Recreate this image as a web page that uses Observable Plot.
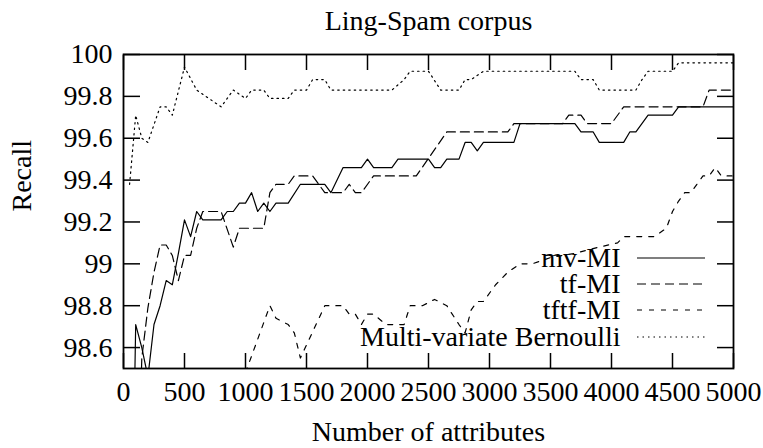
<!DOCTYPE html>
<html>
<head>
<meta charset="utf-8">
<script src="https://cdn.jsdelivr.net/npm/d3@7"></script>
<script src="https://cdn.jsdelivr.net/npm/@observablehq/plot@0.6"></script>
<style>
  html, body { margin: 0; padding: 0; background: white; }
</style>
</head>
<body>
<div id="chart"></div>
<script>
// ---- data ----
const titleText = "Ling-Spam corpus";
const xLabel = "Number of attributes";
const yLabel = "Recall";
const seriesNames = ["mv-MI", "tf-MI", "tftf-MI", "Multi-variate Bernoulli"];

const xTicks = [0, 500, 1000, 1500, 2000, 2500, 3000, 3500, 4000, 4500, 5000];
const yTicks = [98.6, 98.8, 99, 99.2, 99.4, 99.6, 99.8, 100];
const yTickLabels = ["98.6", "98.8", "99", "99.2", "99.4", "99.6", "99.8", "100"];

const mvX = [50,100,150,200,250,300,350,400,450,500,550,600,650,800,850,900,950,1000,1050,1100,1150,1200,1250,1350,1450,1650,1700,1800,1950,2000,2050,2200,2250,2500,2550,2600,2650,2750,2800,2850,2900,2950,3200,3250,3700,3750,3850,3900,4100,4150,4200,4300,4500,4550,5000];
const mvY = [97.0,98.71,98.60,98.46,98.71,98.80,98.92,98.90,99.05,99.21,99.13,99.25,99.21,99.21,99.25,99.25,99.29,99.29,99.34,99.25,99.29,99.25,99.29,99.29,99.38,99.38,99.34,99.46,99.46,99.50,99.46,99.46,99.50,99.50,99.46,99.46,99.50,99.50,99.58,99.58,99.54,99.58,99.58,99.67,99.67,99.63,99.63,99.58,99.58,99.63,99.63,99.71,99.71,99.75,99.75];

const tfX = [100,150,200,250,300,350,400,450,500,550,600,650,800,900,950,1150,1200,1250,1350,1400,1550,1600,1650,1800,1850,1900,1950,2050,2400,2650,3150,3200,3600,3650,3750,3800,4000,4100,4750,4800,5000];
const tfY = [97.5,98.55,98.79,98.96,99.09,99.09,99.04,98.92,99.04,99.04,99.17,99.25,99.25,99.08,99.17,99.17,99.34,99.38,99.38,99.42,99.42,99.38,99.34,99.34,99.38,99.34,99.34,99.42,99.42,99.63,99.63,99.67,99.67,99.71,99.71,99.67,99.67,99.75,99.75,99.83,99.83];

const tftfX = [1000,1200,1250,1350,1400,1450,1650,1800,1850,1900,1950,2000,2050,2150,2300,2350,2450,2550,2650,2750,2800,2850,2900,2950,3050,3150,3250,3350,3500,3700,3900,4050,4100,4350,4450,4500,4550,4600,4650,4750,4800,4850,4900,5000];
const tftfY = [98.48,98.80,98.74,98.71,98.67,98.55,98.80,98.80,98.76,98.76,98.71,98.76,98.76,98.71,98.71,98.80,98.80,98.83,98.80,98.71,98.67,98.78,98.82,98.82,98.90,98.96,99.00,99.00,99.03,99.05,99.08,99.10,99.13,99.13,99.17,99.25,99.30,99.34,99.34,99.42,99.42,99.46,99.42,99.42];

const bernX = [50,100,150,200,300,350,400,500,600,700,800,900,1000,1050,1150,1200,1350,1400,1500,1550,1650,1700,2200,2300,2350,2500,2600,2750,2800,2850,2950,3700,3750,3850,3900,4200,4250,4300,4500,4550,5000];
const bernY = [99.38,99.71,99.60,99.58,99.75,99.75,99.71,99.94,99.83,99.79,99.75,99.83,99.79,99.83,99.83,99.79,99.79,99.83,99.83,99.88,99.88,99.83,99.83,99.88,99.92,99.92,99.83,99.83,99.88,99.88,99.92,99.92,99.88,99.88,99.83,99.83,99.88,99.92,99.92,99.96,99.96];

// ---- styles (kept apart from the data) ----
const dashes = [null, "9,5", "5,7", "1.5,4"];
const FONT = "Liberation Serif";
const FS = 28;

const rows = (name, xs, ys) => xs.map((x, i) => ({series: name, x, y: ys[i]}));
const seriesData = [
  rows(seriesNames[0], mvX, mvY),
  rows(seriesNames[1], tfX, tfY),
  rows(seriesNames[2], tftfX, tftfY),
  rows(seriesNames[3], bernX, bernY)
];

const lineMarks = seriesData.map((d, i) =>
  Plot.line(d, {x: "x", y: "y", stroke: "black", strokeWidth: 1.2,
    strokeDasharray: dashes[i], clip: true})
);

// legend: labels as text marks, samples via a custom render mark
const legendRowOffsets = [110, 84, 58, 31]; // px above the frame bottom
const legendText = seriesNames.map((name, i) =>
  Plot.text([name], {frameAnchor: "bottom-right", dx: -113, dy: -legendRowOffsets[i],
    textAnchor: "end", lineAnchor: "middle", fill: "black", fontSize: FS, fontFamily: FONT})
);
const legendSamples = (index, scales, values, dim) => {
  const g = d3.create("svg:g");
  const x2 = dim.width - dim.marginRight - 28;
  const x1 = dim.width - dim.marginRight - 96;
  const bottom = dim.height - dim.marginBottom;
  seriesNames.forEach((n, i) => {
    g.append("line")
      .attr("x1", x1).attr("x2", x2)
      .attr("y1", bottom - legendRowOffsets[i]).attr("y2", bottom - legendRowOffsets[i])
      .attr("stroke", "black").attr("stroke-width", 1.2)
      .attr("stroke-dasharray", dashes[i]);
  });
  return g.node();
};

const yFmt = d => yTickLabels[yTicks.indexOf(d)];

const chart = Plot.plot({
  width: 763,
  height: 448,
  marginLeft: 123,
  marginRight: 30,
  marginTop: 54,
  marginBottom: 80,
  style: {background: "white", color: "black"},
  x: {domain: [0, 5000]},
  y: {domain: [98.5, 100]},
  marks: [
    Plot.axisX(xTicks, {tickSize: 0, tickPadding: 13, label: null, tickFormat: d => String(d), fontSize: FS, fontFamily: FONT, fill: "black"}),
    Plot.axisX(xTicks, {tickSize: -15, fill: "none", stroke: "black", strokeWidth: 1.5, label: null}),
    Plot.axisX(xTicks, {anchor: "top", tickSize: -15, fill: "none", stroke: "black", strokeWidth: 1.5, label: null}),
    Plot.axisY(yTicks, {tickSize: 0, tickPadding: 11, label: null, tickFormat: yFmt, fontSize: FS, fontFamily: FONT, fill: "black"}),
    Plot.axisY(yTicks, {tickSize: -17, fill: "none", stroke: "black", strokeWidth: 1.5, label: null}),
    Plot.axisY(yTicks, {anchor: "right", tickSize: -17, fill: "none", stroke: "black", strokeWidth: 1.5, label: null}),
    ...lineMarks,
    ...legendText,
    legendSamples,
    Plot.frame({stroke: "black", strokeWidth: 1.8}),
    Plot.text([titleText], {frameAnchor: "top", dy: -33, lineAnchor: "middle", fill: "black", fontSize: FS, fontFamily: FONT}),
    Plot.text([xLabel], {frameAnchor: "bottom", dy: 64, lineAnchor: "middle", fill: "black", fontSize: FS, fontFamily: FONT}),
    Plot.text([yLabel], {frameAnchor: "left", dx: -101, rotate: -90, lineAnchor: "middle", fill: "black", fontSize: FS, fontFamily: FONT})
  ]
});
document.getElementById("chart").appendChild(chart);
</script>
</body>
</html>
